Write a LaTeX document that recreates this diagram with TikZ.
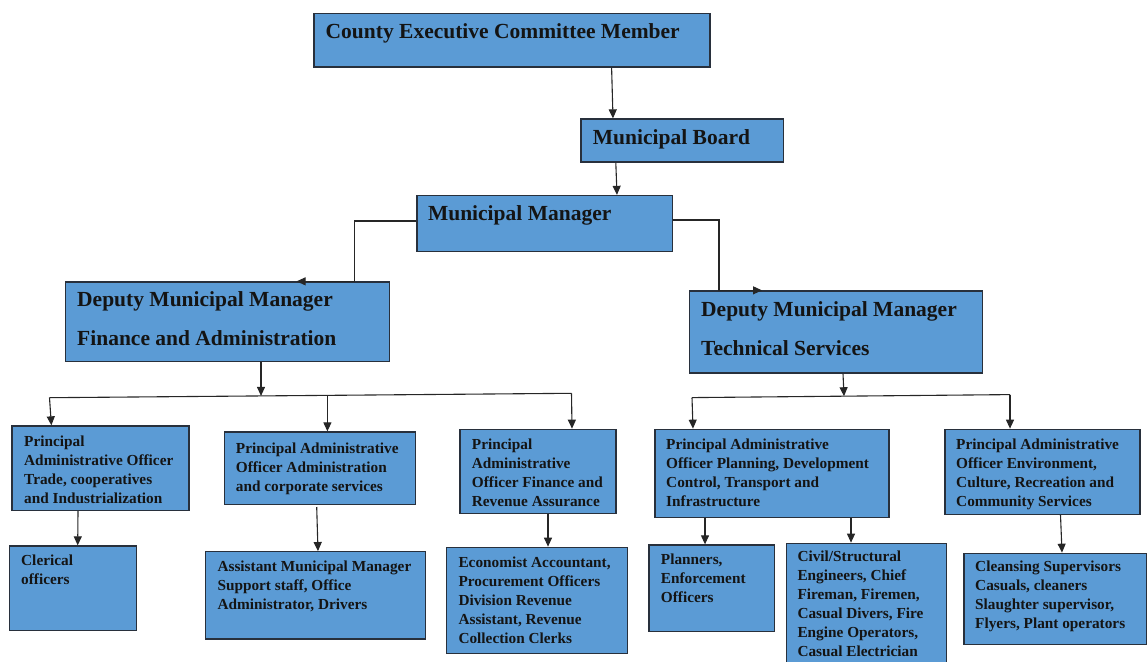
\documentclass[tikz,border=0pt]{standalone}
\usepackage{fontspec}
\setmainfont{Liberation Serif}
\usetikzlibrary{arrows.meta,fit,calc}
\definecolor{boxblue}{RGB}{91,155,213}
\definecolor{boxline}{RGB}{40,48,60}
\newcommand{\tl}[1]{\begin{tabular}[t]{@{}l@{}}#1\end{tabular}}
\tikzset{
  orgbox/.style={draw=boxline, line width=1.3pt, fill=boxblue, inner sep=0pt, rectangle},
  big/.style={font=\bfseries\fontsize{21.5}{38.5}\selectfont, anchor=base west, inner sep=0pt, text=black!92},
  small/.style={font=\bfseries\fontsize{15.3}{19}\selectfont, anchor=base west, inner sep=0pt, text=black!92},
  conn/.style={line width=1.1pt, draw=black!85},
  arr/.style={conn, -{Triangle[length=9pt,width=8pt]}},
}
\begin{document}
\begin{tikzpicture}[x=1pt,y=-1pt]
\useasboundingbox (0,0) rectangle (1147,661);
\begin{scope}
\clip (0,0) rectangle (1147,661);
% boxes
\node[orgbox, fit={(314,13.5) (710,67)}] (cec) {};
\node[orgbox, fit={(581,119) (783.5,162)}] (mb) {};
\node[orgbox, fit={(417,195.5) (672.5,251.5)}] (mm) {};
\node[orgbox, fit={(65.5,282) (389.5,361.5)}] (dfin) {};
\node[orgbox, fit={(689.5,291) (982.5,373)}] (dtech) {};
\node[orgbox, fit={(12,426) (189,510.5)}] (pA) {};
\node[orgbox, fit={(224.3,432) (415.7,504.3)}] (pB) {};
\node[orgbox, fit={(460,429.3) (616,513.3)}] (pC) {};
\node[orgbox, fit={(655,429.3) (889,517.3)}] (pD) {};
\node[orgbox, fit={(945,429.3) (1140,514.3)}] (pE) {};
\node[orgbox, fit={(9.3,546) (136.7,630.3)}] (sA) {};
\node[orgbox, fit={(205.7,551.7) (425.7,639)}] (sB) {};
\node[orgbox, fit={(446.7,547.3) (627.7,653.3)}] (sC) {};
\node[orgbox, fit={(649,545) (774.7,631.7)}] (sD) {};
\node[orgbox, fit={(786.3,543.3) (946.7,672)}] (sDD) {};
\node[orgbox, fit={(964,553.3) (1146.3,644.3)}] (sE) {};
\end{scope}
% texts
\node[big] (tcec) at (325.5,38.5) {County Executive Committee Member};
\node[big] (tmb) at (592.7,144) {Municipal Board};
\node[big] (tmm) at (427.8,220) {Municipal Manager};
\node[big] (tdfin) at (77,306.7) {\tl{Deputy Municipal Manager\\Finance and Administration}};
\node[big] (tdtech) at (701,316.7) {\tl{Deputy Municipal Manager\\Technical Services}};
\node[small] (tpA) at (24,446.7) {\tl{Principal\\Administrative Officer\\Trade, cooperatives\\and Industrialization}};
\node[small] (tpB) at (235.7,453.3) {\tl{Principal Administrative\\Officer Administration\\and corporate services}};
\node[small] (tpC) at (471.7,449) {\tl{Principal\\Administrative\\Officer Finance and\\Revenue Assurance}};
\node[small] (tpD) at (666,449) {\tl{Principal Administrative\\Officer Planning, Development\\Control, Transport and\\Infrastructure}};
\node[small] (tpE) at (956,449) {\tl{Principal Administrative\\Officer Environment,\\Culture, Recreation and\\Community Services}};
\node[small] (tsA) at (21,565.7) {\tl{Clerical\\officers}};
\node[small] (tsB) at (217.3,571) {\tl{Assistant Municipal Manager\\Support staff, Office\\Administrator, Drivers}};
\node[small] (tsC) at (458.3,567.7) {\tl{Economist Accountant,\\Procurement Officers\\Division Revenue\\Assistant, Revenue\\Collection Clerks}};
\node[small] (tsD) at (660.7,564) {\tl{Planners,\\Enforcement\\Officers}};
\node[small] (tsDD) at (797.3,561.7) {\tl{Civil/Structural\\Engineers, Chief\\Fireman, Firemen,\\Casual Divers, Fire\\Engine Operators,\\Casual Electrician}};
\node[small] (tsE) at (975,571.7) {\tl{Cleansing Supervisors\\Casuals, cleaners\\Slaughter supervisor,\\Flyers, Plant operators}};
% top connectors
\draw[arr] (611.6,0 |- cec.south) -- (613,0 |- mb.north);
\draw[arr] (615.8,0 |- mb.south) -- (617,0 |- mm.north);
\draw[arr] (mm.west |- 0,221) -| (354.5,0 |- dfin.north) -- (296.6,0 |- dfin.north);
\draw[arr] (mm.east |- 0,220) -| (719,0 |- dtech.north) -- (762,0 |- dtech.north);
% finance branch
\coordinate (fl) at (49.5,397.7);
\coordinate (fm) at (327.4,395.4);
\coordinate (fr) at (571.5,393.3);
\draw[conn] (fl) -- (fr);
\draw[arr] (261,0 |- dfin.south) -- (261,395.9);
\draw[arr] (fl) -- (51.4,0 |- pA.north);
\draw[arr] (fm) -- (327.4,0 |- pB.north);
\draw[arr] (fr) -- (572,0 |- pC.north);
% technical branch
\coordinate (tl) at (692,397.6);
\coordinate (tr) at (1010,394.6);
\draw[conn] (tl) -- (tr);
\draw[arr] (843,0 |- dtech.south) -- (844,396.2);
\draw[arr] (tl) -- (693,0 |- pD.north);
\draw[arr] (tr) -- (1010,0 |- pE.north);
% lower connectors
\draw[arr] (78,0 |- pA.south) -- (77.7,0 |- sA.north);
\draw[arr] (316.7,507) -- (318,0 |- sB.north);
\draw[arr] (548,0 |- pC.south) -- (548,0 |- sC.north);
\draw[arr] (705,0 |- pD.south) -- (705,0 |- sD.north);
\draw[arr] (851,0 |- pD.south) -- (851,0 |- sDD.north);
\draw[arr] (1060.5,0 |- pE.south) -- (1062,0 |- sE.north);
\end{tikzpicture}
\end{document}
